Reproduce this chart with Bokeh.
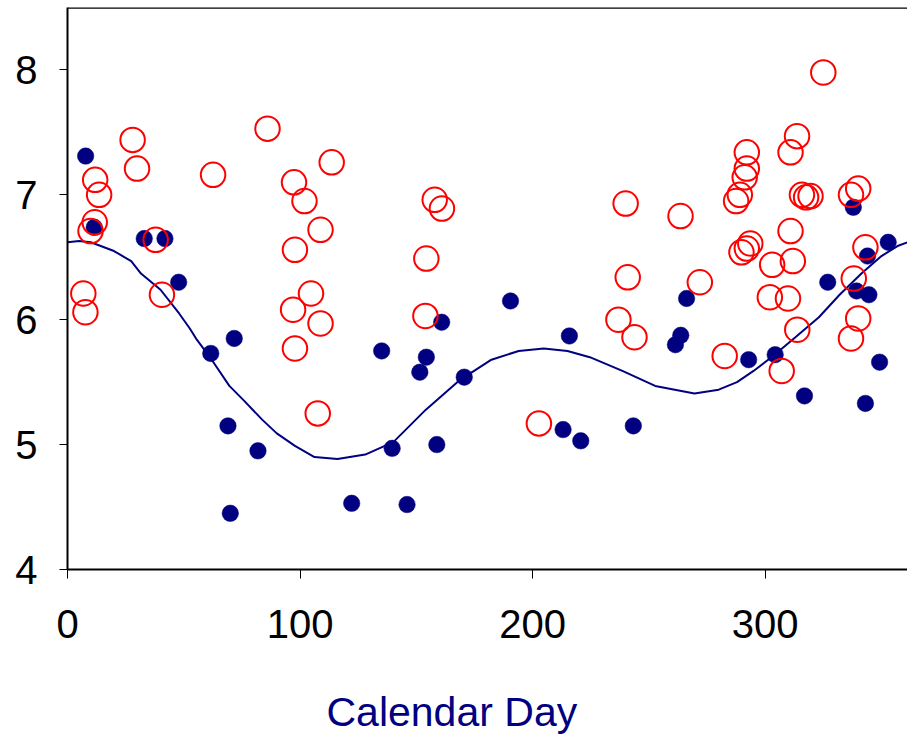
from bokeh.plotting import figure
from bokeh.models import Range1d, FixedTicker, Span, Title
from bokeh.embed import file_html
from bokeh.resources import INLINE

# Navy filled points (calendar day, value)
navy_x = [7.8, 11.5, 33.0, 41.9, 47.8, 61.6, 69.0, 70.0, 71.7, 81.9, 122.2, 135.1, 139.6,
          146.0, 151.5, 154.3, 158.8, 160.9, 170.6, 190.5, 213.1, 215.8, 220.7, 243.3,
          261.4, 263.7, 266.2, 292.9, 304.3, 316.9, 326.9, 337.9, 339.3, 343.1, 344.0,
          344.6, 349.2, 352.9]
navy_y = [7.31, 6.74, 6.65, 6.65, 6.30, 5.73, 5.15, 4.45, 5.85, 4.95, 4.53, 5.75, 4.97,
          4.52, 5.58, 5.70, 5.00, 5.98, 5.54, 6.15, 5.12, 5.87, 5.03, 5.15,
          5.80, 5.875, 6.17, 5.68, 5.72, 5.39, 6.30, 6.90, 6.23, 5.33, 6.51,
          6.20, 5.66, 6.62]

# Red open circles (calendar day, value)
red_x = [28.0, 29.9, 11.9, 13.6, 11.7, 9.9, 37.9, 86.0, 62.6, 97.4, 101.9, 97.8, 108.8,
         113.6, 157.9, 161.0, 154.3, 104.7, 6.8, 7.7, 40.6, 97.0, 97.8, 108.8, 107.6,
         153.9, 202.7, 236.9, 243.8, 271.9, 240.9, 282.6, 302.0, 309.8, 313.8, 307.1,
         338.1, 340.0, 336.9, 325.0, 313.7, 310.9, 292.1, 292.1, 291.2, 289.1, 287.5,
         240.0, 263.6, 315.8, 317.6, 319.5, 340.0, 336.9, 310.9, 343.1, 293.6, 292.1,
         289.8, 303.0, 311.9]
red_y = [7.44, 7.21, 7.12, 7.00, 6.78, 6.71, 6.64, 7.53, 7.16, 7.10, 6.95, 6.56, 6.72,
         7.26, 6.96, 6.89, 6.49, 6.21, 6.21, 6.06, 6.20, 6.08, 5.77, 5.97, 5.25,
         6.03, 5.17, 6.00, 5.86, 6.30, 6.34, 5.71, 6.18, 6.17, 5.92, 5.59,
         6.33, 6.01, 5.85, 7.98, 7.47, 7.34, 7.34, 7.21, 7.14, 7.00, 6.95,
         6.93, 6.83, 7.00, 6.98, 6.99, 7.05, 7.00, 6.71, 6.58, 6.61, 6.57,
         6.54, 6.44, 6.47]

# Fitted curve
curve_x = [0, 5, 10, 20, 24.6, 27.4, 31.6, 40, 48, 52.6, 55.6, 62, 69.6, 76, 83.7, 90,
           97.8, 106.2, 116.1, 128, 140.1, 154.1, 168.2, 182.3, 194, 204.8, 215, 224.6,
           238.6, 252.7, 269.6, 280, 287.9, 295, 303.4, 313, 323.1, 332, 341.4, 350,
           356.9, 361.2]
curve_y = [6.62, 6.63, 6.62, 6.55, 6.50, 6.47, 6.37, 6.24, 6.05, 5.93, 5.84, 5.68, 5.47,
           5.35, 5.20, 5.09, 4.99, 4.90, 4.885, 4.92, 5.02, 5.28, 5.51, 5.68, 5.75, 5.77,
           5.75, 5.70, 5.59, 5.47, 5.41, 5.44, 5.50, 5.59, 5.71, 5.86, 6.02, 6.20, 6.37,
           6.51, 6.59, 6.62]

x_ticks = [0, 100, 200, 300]
y_ticks = [4, 5, 6, 7, 8]
x_label = "Calendar Day"

NAVY = "#000080"
RED = "#FF0000"
FONT = "Liberation Sans"

p = figure(width=907, height=736, output_backend="svg", toolbar_location=None,
           x_range=Range1d(0, 361.2), y_range=Range1d(4, 8.5),
           min_border_left=67, min_border_right=0, min_border_top=7,
           min_border_bottom=165)

p.background_fill_color = "white"
p.border_fill_color = "white"
p.outline_line_color = None
p.xgrid.visible = False
p.ygrid.visible = False

p.line(curve_x, curve_y, line_color=NAVY, line_width=2)
p.scatter(navy_x, navy_y, marker="circle", size=16.5, fill_color=NAVY, line_color=NAVY, line_width=0.5)
p.scatter(red_x, red_y, marker="circle", size=24.5, fill_color=None, line_color=RED, line_width=2)

p.add_layout(Span(location=8.497, dimension="width", line_color="black", line_width=2))

for ax in (p.xaxis, p.yaxis):
    ax.axis_line_color = "black"
    ax.axis_line_width = 2
    ax.major_tick_line_color = "black"
    ax.major_tick_line_width = 1
    ax.major_tick_in = 0
    ax.minor_tick_line_color = None
    ax.major_label_text_font = FONT
    ax.major_label_text_font_size = "40px"
    ax.major_label_text_color = "black"

p.xaxis.ticker = FixedTicker(ticks=x_ticks)
p.yaxis.ticker = FixedTicker(ticks=y_ticks)
p.xaxis.major_tick_out = 9
p.yaxis.major_tick_out = 8
p.xaxis.major_label_standoff = 31
p.yaxis.major_label_standoff = 22

title_kwargs = dict(text=x_label, align="left", offset=259, standoff=0,
                    vertical_align="top", text_font=FONT, text_font_size="41px",
                    text_font_style="normal", text_color=NAVY)
try:
    title = Title(padding=dict(left=0, right=0, top=48, bottom=0), **title_kwargs)
except Exception:
    title = Title(**title_kwargs)
p.add_layout(title, "below")

open("out.html", "w").write(file_html(p, INLINE))
